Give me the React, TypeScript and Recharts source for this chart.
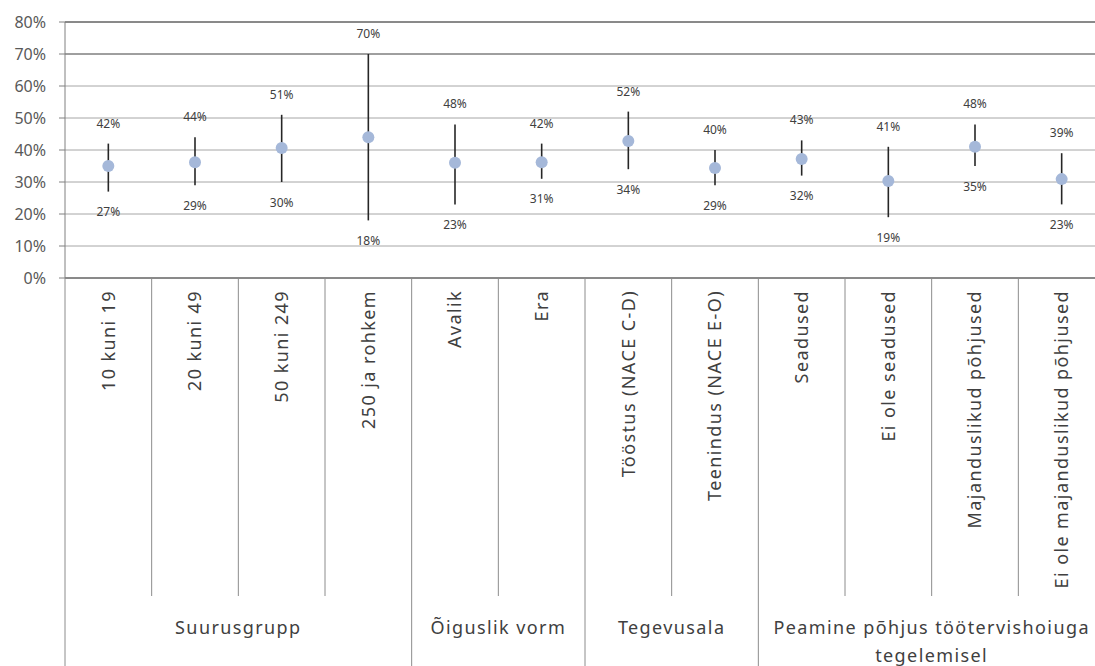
import {
  ComposedChart,
  Line,
  XAxis,
  YAxis,
  CartesianGrid,
  ErrorBar,
  LabelList,
  ReferenceLine,
} from 'recharts';

const categories = [
  '10 kuni 19',
  '20 kuni 49',
  '50 kuni 249',
  '250 ja rohkem',
  'Avalik',
  'Era',
  'Tööstus (NACE C-D)',
  'Teenindus (NACE E-O)',
  'Seadused',
  'Ei ole seadused',
  'Majanduslikud põhjused',
  'Ei ole majanduslikud põhjused',
];
const means = [35, 36.2, 40.6, 44, 36, 36.2, 42.8, 34.4, 37.2, 30.3, 41, 30.9];
const lows = [27, 29, 30, 18, 23, 31, 34, 29, 32, 19, 35, 23];
const highs = [42, 44, 51, 70, 48, 42, 52, 40, 43, 41, 48, 39];
const yTicks = [0, 10, 20, 30, 40, 50, 60, 70, 80];

const groupLabels = [
  ['Suurusgrupp'],
  ['Õiguslik vorm'],
  ['Tegevusala'],
  ['Peamine põhjus töötervishoiuga', 'tegelemisel'],
];
const groupSizes = [4, 2, 2, 4];

const W = 1110;
const H = 666;
const LEFT = 65;
const RIGHT = 5;
const AXIS_H = 388;
const BW = (W - LEFT - RIGHT) / categories.length;
const FONT = '"Noto Sans", "Open Sans", sans-serif';
const TEXT = '#404040';

const data = categories.map((name, i) => ({
  name,
  mean: means[i],
  lo: lows[i],
  hi: highs[i],
  err: [means[i] - lows[i], highs[i] - means[i]],
}));

const groupStarts = groupSizes.map((_, g) => groupSizes.slice(0, g).reduce((a, b) => a + b, 0));

function CategoryTick(props: any) {
  const { x, y, payload, index } = props;
  const g = groupStarts.indexOf(index);
  const left = x - BW / 2;
  return (
    <g>
      <line
        x1={left}
        x2={left}
        y1={y}
        y2={g >= 0 ? y + AXIS_H : y + 318}
        stroke="#8c8c8c"
        strokeWidth={1}
      />
      <text
        transform={`translate(${x},${y + 12}) rotate(-90)`}
        textAnchor="end"
        dy="0.35em"
        fontSize={18}
        letterSpacing={1.4}
        fill={TEXT}
        fontFamily={FONT}
      >
        {payload.value}
      </text>
      {g >= 0 && (
        <text
          x={left + (groupSizes[g] * BW) / 2}
          y={y + 356}
          textAnchor="middle"
          fontSize={18}
          letterSpacing={1.4}
          fill={TEXT}
          fontFamily={FONT}
        >
          {groupLabels[g].map((line, k) => (
            <tspan key={k} x={left + (groupSizes[g] * BW) / 2} dy={k === 0 ? 0 : 28}>
              {line}
            </tspan>
          ))}
        </text>
      )}
    </g>
  );
}

const pct = (v: any) => `${v}%`;

export default function App() {
  return (
    <div
      style={{
        position: 'absolute',
        left: 0,
        top: 0,
        width: 1095,
        height: 666,
        overflow: 'hidden',
        background: '#fff',
      }}
    >
      <ComposedChart
        width={W}
        height={H}
        data={data}
        margin={{ top: 22, right: RIGHT, bottom: 0, left: 0 }}
      >
        <CartesianGrid vertical={false} stroke="#a6a6a6" />
        <ReferenceLine y={80} stroke="#404040" />
        <ReferenceLine y={70} stroke="#6a6a6a" />
        <XAxis
          dataKey="name"
          scale="band"
          height={AXIS_H}
          interval={0}
          tickLine={false}
          tickSize={0}
          tickMargin={0}
          axisLine={{ stroke: '#404040' }}
          tick={<CategoryTick />}
        />
        <YAxis
          width={LEFT}
          domain={[0, 80]}
          ticks={yTicks}
          tickFormatter={pct}
          tickSize={6}
          tickMargin={13}
          tickLine={{ stroke: '#808080' }}
          axisLine={{ stroke: '#808080' }}
          tick={{ fontSize: 16, fill: '#595959', fontFamily: FONT }}
        />
        <Line
          dataKey="hi"
          stroke="none"
          dot={false}
          activeDot={false}
          isAnimationActive={false}
        >
          <LabelList
            dataKey="hi"
            position="top"
            offset={16}
            formatter={pct}
            style={{ fontSize: 12, fill: TEXT, fontFamily: FONT }}
          />
        </Line>
        <Line
          dataKey="lo"
          stroke="none"
          dot={false}
          activeDot={false}
          isAnimationActive={false}
        >
          <LabelList
            dataKey="lo"
            position="bottom"
            offset={16}
            formatter={pct}
            style={{ fontSize: 12, fill: TEXT, fontFamily: FONT }}
          />
        </Line>
        <Line
          dataKey="mean"
          stroke="none"
          dot={{ r: 6, fill: '#a5b8d9', stroke: 'none' }}
          activeDot={false}
          isAnimationActive={false}
        >
          <ErrorBar dataKey="err" width={0} stroke="#262626" strokeWidth={1.6} direction="y" />
        </Line>
      </ComposedChart>
    </div>
  );
}
